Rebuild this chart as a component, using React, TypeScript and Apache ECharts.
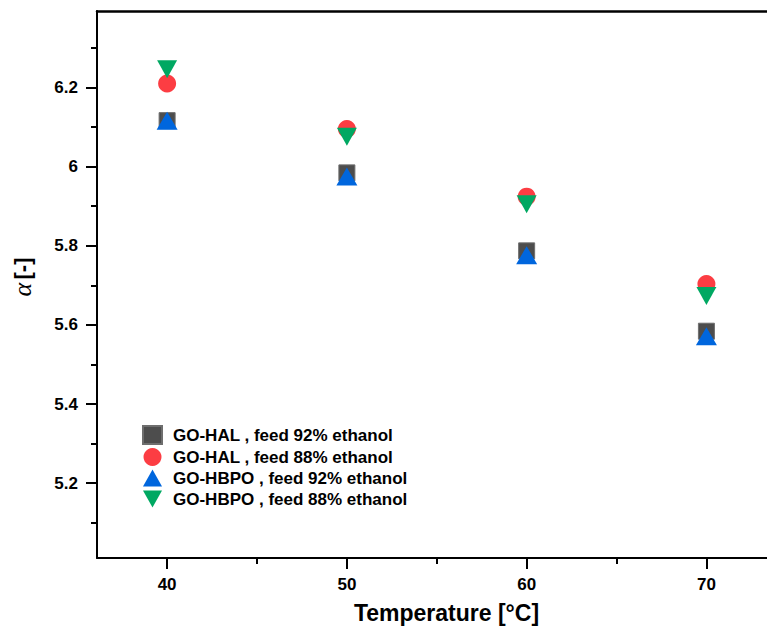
import React, { useEffect, useRef } from "react";
import * as echarts from "echarts";

const temperatures = [40, 50, 60, 70];
const halFeed92 = [6.116, 5.984, 5.787, 5.584];
const halFeed88 = [6.21, 6.095, 5.924, 5.703];
const hbpoFeed92 = [6.116, 5.975, 5.776, 5.571];
const hbpoFeed88 = [6.246, 6.075, 5.905, 5.673];
const seriesNames = [
  "GO-HAL , feed 92% ethanol",
  "GO-HAL , feed 88% ethanol",
  "GO-HBPO , feed 92% ethanol",
  "GO-HBPO , feed 88% ethanol",
];
const xMajorTicks = [40, 50, 60, 70];
const xMinorTicks = [45, 55, 65];
const yMajorTicks = [5.2, 5.4, 5.6, 5.8, 6, 6.2];
const yMinorTicks = [5.1, 5.3, 5.5, 5.7, 5.9, 6.1, 6.3];
const xTitle = "Temperature [°C]";

const FONT = "'Liberation Sans', Arial, sans-serif";
const X_MIN = 36.1;
const X_MAX = 73.37;
const Y_MIN = 5.011;
const Y_MAX = 6.393;
const DOWN_TRIANGLE = "path://M0,0L20,0L10,18Z";
const UP_TRIANGLE = "path://M10,0L20,18L0,18Z";

export default function App() {
  const ref = useRef<HTMLDivElement>(null);
  useEffect(() => {
    if (!ref.current) return;
    const chart = echarts.init(ref.current, null, { renderer: "svg" });
    const toPts = (ys: number[]) => temperatures.map((t, i) => [t, ys[i]]);
    const lineStyle = { color: "#000", width: 2 };
    const labelStyle = { fontFamily: FONT, fontWeight: "bold" as const, fontSize: 17, color: "#000" };
    chart.setOption({
      animation: false,
      backgroundColor: "#fff",
      grid: { left: 97, right: 0, top: 11, bottom: 69, containLabel: false, outerBoundsMode: "none" },
      legend: {
        orient: "vertical",
        left: 142,
        top: 425,
        padding: 0,
        itemWidth: 19,
        itemHeight: 18,
        itemGap: 3,
        data: seriesNames,
        textStyle: { ...labelStyle, lineHeight: 18, padding: [0, 0, 0, 6] },
      },
      xAxis: [
        {
          type: "value",
          min: X_MIN,
          max: X_MAX,
          position: "bottom",
          axisLine: { show: true, onZero: false, lineStyle },
          axisTick: { show: true, inside: false, length: 11, customValues: xMajorTicks, lineStyle },
          axisLabel: { show: true, margin: 18, customValues: xMajorTicks, ...labelStyle },
          splitLine: { show: false },
        },
        {
          type: "value",
          min: X_MIN,
          max: X_MAX,
          position: "bottom",
          axisLine: { show: false },
          axisTick: { show: true, inside: false, length: 6, customValues: xMinorTicks, lineStyle },
          axisLabel: { show: false },
          splitLine: { show: false },
        },
        {
          type: "value",
          min: X_MIN,
          max: X_MAX,
          position: "top",
          axisLine: { show: true, onZero: false, lineStyle: { color: "#000", width: 2.5 } },
          axisTick: { show: false },
          axisLabel: { show: false },
          splitLine: { show: false },
        },
      ],
      yAxis: [
        {
          type: "value",
          min: Y_MIN,
          max: Y_MAX,
          position: "left",
          axisLine: { show: true, onZero: false, lineStyle },
          axisTick: { show: true, inside: false, length: 11, customValues: yMajorTicks, lineStyle },
          axisLabel: { show: true, margin: 19, customValues: yMajorTicks, ...labelStyle },
          splitLine: { show: false },
        },
        {
          type: "value",
          min: Y_MIN,
          max: Y_MAX,
          position: "left",
          axisLine: { show: false },
          axisTick: { show: true, inside: false, length: 6, customValues: yMinorTicks, lineStyle },
          axisLabel: { show: false },
          splitLine: { show: false },
        },
      ],
      graphic: [
        {
          type: "text",
          x: 446.5,
          y: 613,
          style: {
            text: xTitle,
            fontFamily: FONT,
            fontWeight: "bold",
            fontSize: 23,
            fill: "#000",
            align: "center",
            verticalAlign: "middle",
          },
        },
        {
          type: "text",
          x: 22,
          y: 277,
          rotation: Math.PI / 2,
          style: {
            text: "{a|α} {b|[-]}",
            align: "center",
            verticalAlign: "middle",
            rich: {
              a: { fontFamily: "'Liberation Serif', 'DejaVu Serif', serif", fontStyle: "italic", fontSize: 26, fill: "#000" },
              b: { fontFamily: FONT, fontWeight: "bold", fontSize: 22, fill: "#000" },
            },
          },
        },
      ],
      series: [
        {
          name: seriesNames[0],
          type: "scatter",
          symbol: "rect",
          symbolSize: 16,
          itemStyle: { color: "#4D4D4D", borderColor: "#6E6E6E", borderWidth: 1, opacity: 1 },
          data: toPts(halFeed92),
          z: 2,
        },
        {
          name: seriesNames[1],
          type: "scatter",
          symbol: "circle",
          symbolSize: 18,
          itemStyle: { color: "#FC3D43", opacity: 1 },
          data: toPts(halFeed88),
          z: 3,
        },
        {
          name: seriesNames[2],
          type: "scatter",
          symbol: UP_TRIANGLE,
          symbolSize: [21, 18],
          itemStyle: { color: "#0066DD", opacity: 1 },
          data: toPts(hbpoFeed92),
          z: 4,
        },
        {
          name: seriesNames[3],
          type: "scatter",
          symbol: DOWN_TRIANGLE,
          symbolSize: [20, 18],
          itemStyle: { color: "#00A862", opacity: 1 },
          data: toPts(hbpoFeed88),
          z: 5,
        },
      ],
    });
    return () => chart.dispose();
  }, []);
  return (
    <div
      ref={ref}
      style={{ position: "fixed", left: 0, top: 0, width: 767, height: 627, background: "#fff" }}
    />
  );
}
